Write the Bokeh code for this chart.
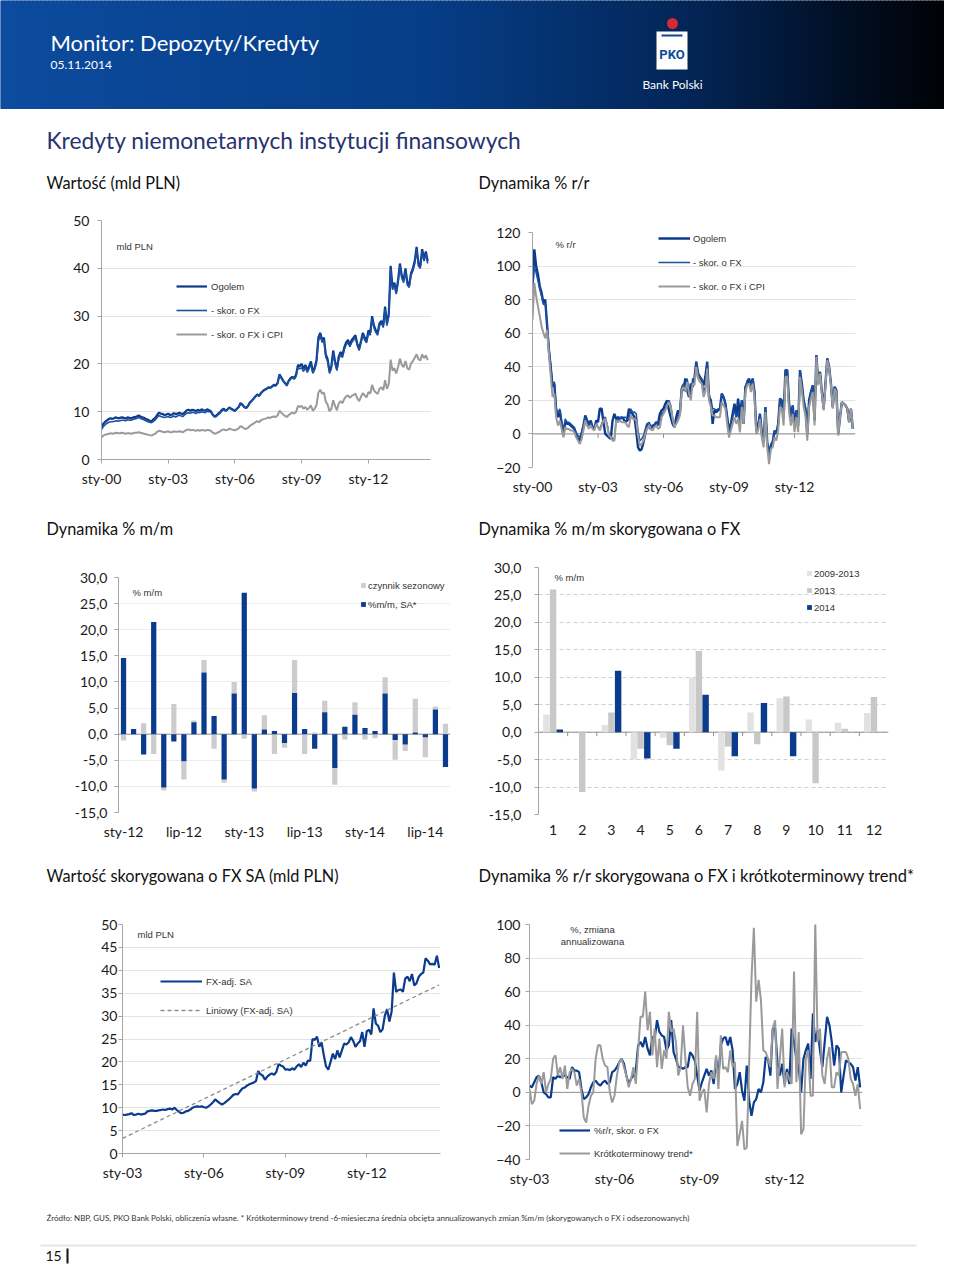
from bokeh.plotting import figure
from bokeh.models import Range1d, FixedTicker, Legend, LegendItem, Span, Label
from bokeh.layouts import column, row
from bokeh.embed import file_html
from bokeh.resources import INLINE
from bokeh.core.properties import value

# ---------------- DATA ----------------
# Chart 1: Wartość (mld PLN), monthly sty-2000 .. wrz-2014
level_tick_labels = ["sty-00", "sty-03", "sty-06", "sty-09", "sty-12"]
level_total = [
    6.9, 7.5, 7.9, 8.2, 8.5, 8.6, 8.5, 8.7, 8.8, 8.6, 8.7, 8.8,
    8.7, 8.6, 8.8, 8.7, 8.6, 8.8, 8.9, 9.0, 9.2, 9.0, 8.8, 8.7,
    8.5, 8.3, 8.1, 8.0, 8.4, 8.7, 9.3, 9.8, 9.6, 9.5, 9.3, 9.4,
    9.6, 9.3, 9.4, 9.7, 9.5, 9.6, 9.8, 9.6, 9.5, 9.9, 10.3, 10.4,
    10.2, 10.4, 10.3, 10.1, 10.4, 10.2, 10.5, 10.3, 10.2, 10.5, 10.3, 10.1,
    9.4, 9.0, 9.2, 9.6, 9.9, 10.4, 10.6, 10.2, 10.5, 10.9, 10.6, 10.4,
    10.2, 10.6, 11.0, 11.8, 11.5, 11.0, 10.8, 11.2, 11.9, 12.3, 12.7, 13.2,
    13.6, 13.3, 13.9, 14.3, 14.6, 14.8, 15.1, 15.0, 15.3, 15.6, 15.5, 16.0,
    17.8, 17.2, 16.5, 16.0, 15.6, 16.5, 17.0, 17.3, 17.0, 17.8, 19.8, 19.5,
    20.0, 19.0, 19.8, 18.6, 19.5, 20.5, 18.4, 19.2, 20.8, 25.5, 26.5, 25.0,
    25.5, 22.0, 21.0, 18.5, 19.5, 22.8, 20.5, 19.0, 21.5, 22.5, 21.8, 23.5,
    24.5, 25.0, 24.0, 25.0, 25.5, 26.0, 24.2, 23.2, 24.8, 26.5, 25.5, 24.8,
    27.0, 26.5, 30.0, 28.0, 27.0, 26.5, 28.5, 29.0, 28.0, 32.0, 28.5, 30.5,
    40.5, 36.0, 37.0, 35.0, 37.5, 41.0, 38.5, 37.5, 40.0, 37.0, 36.5, 39.0,
    40.0, 41.5, 44.5, 41.0, 40.5, 44.0, 42.0, 43.5, 41.5]
level_fx_adj = [
    6.3, 6.9, 7.3, 7.6, 7.8, 7.9, 7.9, 8.0, 8.1, 8.0, 8.1, 8.2,
    8.2, 8.1, 8.3, 8.2, 8.2, 8.4, 8.5, 8.6, 8.8, 8.6, 8.4, 8.3,
    8.1, 7.9, 7.8, 7.7, 8.0, 8.3, 8.8, 9.2, 9.0, 8.9, 8.8, 8.9,
    9.0, 8.8, 8.9, 9.1, 8.9, 9.1, 9.3, 9.1, 9.0, 9.4, 9.7, 9.8,
    9.7, 9.9, 9.8, 9.6, 9.9, 9.8, 10.0, 9.9, 9.8, 10.1, 10.0, 9.9,
    9.3, 8.9, 9.0, 9.4, 9.7, 10.2, 10.4, 10.1, 10.4, 10.8, 10.5, 10.3,
    10.1, 10.5, 10.9, 11.6, 11.4, 10.9, 10.7, 11.1, 11.8, 12.2, 12.6, 13.1,
    13.5, 13.2, 13.8, 14.2, 14.5, 14.7, 15.0, 14.9, 15.2, 15.5, 15.4, 15.9,
    17.6, 17.0, 16.4, 15.9, 15.4, 16.3, 16.8, 17.1, 16.8, 17.4, 19.2, 19.0,
    19.2, 18.4, 19.3, 18.2, 19.0, 20.0, 18.0, 18.8, 20.2, 24.8, 26.0, 24.5,
    25.0, 21.5, 20.5, 18.0, 19.0, 22.2, 20.0, 18.6, 21.0, 22.0, 21.3, 23.0,
    24.0, 24.5, 23.6, 24.5, 25.0, 25.5, 23.8, 22.8, 24.4, 26.0, 25.0, 24.4,
    26.5, 26.0, 29.5, 27.5, 26.6, 26.0, 28.0, 28.6, 27.6, 31.5, 28.0, 30.0,
    40.0, 35.5, 36.5, 34.6, 37.0, 40.5, 38.0, 37.0, 39.5, 36.5, 36.0, 38.5,
    39.5, 41.0, 44.0, 40.5, 40.0, 43.5, 41.5, 43.0, 41.0]
level_fx_cpi_adj = [
    4.6, 5.0, 5.2, 5.3, 5.4, 5.5, 5.4, 5.5, 5.6, 5.5, 5.5, 5.6,
    5.5, 5.4, 5.5, 5.5, 5.4, 5.5, 5.6, 5.6, 5.7, 5.6, 5.5, 5.4,
    5.3, 5.2, 5.1, 5.0, 5.2, 5.4, 5.8, 6.0, 5.9, 5.8, 5.7, 5.8,
    5.9, 5.7, 5.7, 5.9, 5.8, 5.8, 5.9, 5.8, 5.7, 6.0, 6.2, 6.3,
    6.1, 6.2, 6.1, 6.0, 6.2, 6.0, 6.2, 6.1, 6.0, 6.2, 6.1, 6.0,
    5.6, 5.4, 5.5, 5.7, 5.9, 6.2, 6.3, 6.1, 6.2, 6.5, 6.3, 6.2,
    6.1, 6.3, 6.5, 7.0, 6.8, 6.5, 6.4, 6.6, 7.0, 7.3, 7.5, 7.8,
    8.0, 7.8, 8.2, 8.4, 8.5, 8.6, 8.8, 8.7, 8.9, 9.0, 8.9, 9.2,
    10.2, 9.8, 9.4, 9.1, 8.9, 9.3, 9.6, 9.8, 9.6, 10.0, 11.2, 11.0,
    11.2, 10.6, 11.0, 10.4, 10.8, 11.3, 10.2, 10.6, 11.4, 14.0, 14.6, 13.8,
    14.0, 12.1, 11.5, 10.1, 10.6, 12.4, 11.2, 10.3, 11.7, 12.2, 11.8, 12.7,
    13.2, 13.4, 12.9, 13.3, 13.5, 13.8, 12.8, 12.2, 13.1, 13.9, 13.4, 13.0,
    14.1, 13.8, 15.6, 14.5, 14.0, 13.7, 14.8, 15.1, 14.5, 16.6, 14.8, 15.8,
    20.9, 18.6, 19.1, 18.0, 19.3, 21.1, 19.8, 19.3, 20.6, 19.1, 18.8, 20.1,
    20.6, 21.3, 22.0, 21.0, 20.7, 22.0, 21.2, 21.8, 20.8]

# Chart 2: Dynamika % r/r, monthly sty-2000 .. wrz-2014
yoy_total = [
    87, 110, 100, 95, 88, 84, 78, 80, 65, 50, 40, 28,
    30, 14, 10, 14, 6, -1, 7, 6, 6, 5, 4, 3,
    -1, -3, -4, 0, 5, 11, 8, 6, 8, 4, 3, 8,
    7, 15, 15, 7, 0, -1, -2, -3, 8, 12, 9, 10,
    9, 10, 9, 7, 8, 15, 13, 12, 10, 2, -8, -10,
    -9, -5, 0, 6, 4, 3, 5, 5, 7, 6, 12, 14,
    15, 18, 20, 14, 10, 6, 4, 10, 14, 12, 27, 26,
    33, 26, 22, 30, 28, 33, 43, 36, 34, 32, 29, 34,
    43, 22, 20, 6, 14, 13, 14, 15, 24, 22, 18, 10,
    1, 6, 12, 18, 10, 21, 10, 20, 6, 28, 30, 33,
    29, 33, 25, 2, 5, 12, 1, -5, 16, -5, -12, -7,
    -5, 2, 0, 6, 21, 20, 10, 38, 38, 18, 10, 17,
    5, 14, 5, 38, 30, 20, 15, 0, 20, 25, 29, 8,
    47, 30, 37, 25, 15, 30, 45, 40, 30, 16, 28, 26,
    0, 10, 19, 18, 17, 15, 7, 15, 3]
yoy_fx_adj = [
    85, 100, 96, 91, 86, 82, 77, 78, 66, 52, 41, 30,
    31, 16, 12, 15, 8, 2, 9, 7, 7, 6, 5, 4,
    1, -1, -2, 1, 5, 10, 7, 5, 7, 4, 3, 7,
    4, 3, 6, 9, 10, 6, 0, -1, -3, -3, 9, 8,
    10, 9, 10, 10, 9, 8, 15, 13, 13, 12, 2, -4,
    -3, -1, 3, 6, 7, 5, 4, 6, 7, 5, 6, 12,
    13, 15, 18, 20, 17, 10, 5, 8, 10, 13, 28, 30,
    27, 33, 26, 22, 33, 32, 43, 36, 34, 33, 25, 28,
    43, 24, 20, 15, 15, 14, 15, 15, 24, 22, 19, 10,
    1, 6, 10, 14, 10, 13, 5, 20, 10, 28, 32, 33,
    28, 33, 25, 2, 5, 12, 1, -5, 16, -5, -14, -6,
    -4, 2, 0, 6, 21, 20, 10, 38, 38, 18, 10, 17,
    5, 14, 5, 38, 30, 20, 15, 0, 20, 25, 29, 8,
    47, 30, 37, 25, 15, 30, 45, 40, 30, 16, 28, 26,
    0, 10, 19, 18, 17, 15, 7, 15, 3]
yoy_fx_cpi_adj = [
    68, 90, 82, 76, 70, 64, 60, 57, 62, 48, 35, 22,
    24, 10, 5, 8, 3, -2, 4, 3, 3, 2, 2, 1,
    -2, -4, -6, -3, 2, 8, 5, 3, 5, 3, 2, 6,
    4, 2, 5, 8, 9, 5, -1, -2, -4, -4, 8, 7,
    8, 7, 7, 7, 5, 4, 11, 9, 9, 8, -1, -7,
    -6, -4, 0, 3, 5, 3, 2, 4, 5, 3, 4, 10,
    12, 14, 17, 19, 16, 9, 4, 6, 8, 11, 26, 28,
    25, 31, 24, 20, 30, 29, 40, 33, 31, 30, 22, 25,
    39, 20, 16, 11, 11, 10, 10, 10, 19, 17, 15, 6,
    -2, 2, 6, 10, 6, 9, 1, 16, 6, 25, 29, 30,
    25, 30, 22, 0, 2, 9, -2, -8, 13, -8, -18, -9,
    -8, -2, -4, 2, 16, 15, 5, 34, 34, 13, 5, 12,
    1, 10, 1, 34, 26, 16, 11, -4, 16, 21, 25, 5,
    46, 29, 36, 24, 14, 29, 44, 39, 29, 15, 27, 25,
    -1, 10, 19, 18, 17, 15, 7, 15, 3]

# Chart 3: Dynamika % m/m, sty-2012 .. wrz-2014
mm_tick_labels = ["sty-12", "lip-12", "sty-13", "lip-13", "sty-14", "lip-14"]
mm_sa = [14.6, 1.0, -3.9, 21.5, -10.2, -1.4, -5.2, 2.3, 11.8, 3.5, -8.7, 7.8,
         27.1, -10.4, 0.9, 0.6, -1.7, 7.9, 1.0, -2.8, 4.2, -6.5, 1.4, 3.7,
         1.2, 0.6, 7.8, -1.1, -2.0, 0.3, -0.6, 4.7, -6.3]
mm_seasonal = [-1.2, 0.0, 2.1, -3.8, -0.6, 5.8, -3.5, 0.3, 2.4, -2.8, -0.6, 2.2,
               -0.9, -0.6, 2.7, -3.8, -0.9, 6.3, -3.8, 0.3, 2.2, -3.2, -1.0, 2.4,
               -1.0, -0.8, 3.1, -3.8, -1.2, 6.5, -3.8, 0.6, 2.0]
pct_ticks = [-15, -10, -5, 0, 5, 10, 15, 20, 25, 30]
pct_tick_labels = ["-15,0", "-10,0", "-5,0", "0,0", "5,0", "10,0", "15,0", "20,0", "25,0", "30,0"]

# Chart 4: Dynamika % m/m skorygowana o FX, by calendar month
cal_months = [1, 2, 3, 4, 5, 6, 7, 8, 9, 10, 11, 12]
mm_avg_2009_2013 = [3.2, 0.0, 1.3, -5.0, -1.0, 9.9, -7.0, 3.6, 6.2, 2.3, 1.7, 3.5]
mm_2013 = [26.0, -10.9, 3.6, -3.0, -2.4, 14.8, -2.6, -2.2, 6.5, -9.3, 0.6, 6.4]
mm_2014 = [0.5, 0.0, 11.2, -4.8, -3.0, 6.8, -4.4, 5.3, -4.4, float("nan"), float("nan"), float("nan")]

# Chart 5: Wartość skorygowana o FX SA (mld PLN), sty-2003 .. wrz-2014
sa_tick_labels = ["sty-03", "sty-06", "sty-09", "sty-12"]
sa_level = [
    8.5, 8.4, 8.5, 8.6, 8.8, 8.4, 8.5, 8.7, 8.5, 8.6, 8.7, 9.2,
    9.3, 9.4, 9.3, 9.3, 9.4, 9.5, 9.6, 9.5, 9.7, 9.8, 9.6, 10.0,
    9.5, 9.1, 8.8, 8.9, 9.2, 9.3, 9.6, 10.0, 10.2, 10.3, 10.2, 10.3,
    10.1, 10.0, 10.3, 10.7, 11.2, 11.8, 11.4, 11.0, 10.7, 11.0, 11.4, 11.8,
    12.3, 12.8, 13.0, 12.9, 13.6, 14.2, 14.4, 14.8, 15.1, 15.3, 15.5, 15.8,
    18.0, 17.3, 17.0, 16.1, 16.8, 17.2, 17.5, 17.2, 17.8, 19.5, 19.2, 19.0,
    18.3, 18.4, 18.2, 18.6, 18.3, 19.0, 19.5, 18.9, 19.8, 19.2, 20.3, 20.2,
    25.0, 24.8, 25.5, 23.3, 24.3, 21.5, 19.0, 18.3, 20.0, 21.8, 20.6, 22.5,
    21.0, 22.5, 24.0, 23.8, 24.3, 25.4, 24.6, 23.3, 24.0, 24.5, 26.5, 23.3,
    26.7, 27.0, 26.0, 31.7, 28.4, 27.9, 26.5, 27.1, 30.1, 31.5, 28.8, 31.0,
    39.5, 35.3, 35.7, 35.8, 35.3, 38.2, 38.6, 37.6, 39.2, 36.7, 37.2, 38.6,
    39.2, 39.5, 42.6, 42.1, 41.3, 41.4, 41.2, 43.2, 40.5]
sa_linear_start = 3.3
sa_linear_end = 36.8

# Chart 6: Dynamika % r/r skorygowana o FX i krótkoterminowy trend, sty-2003 .. wrz-2014
yoy_fx_2003 = yoy_fx_adj[36:]
short_trend = [
    2, -7, -5, 5, 10, 5, 12, 0, 5, 8, 20, 22,
    10, 15, 8, 16, 2, 12, 14, 12, 4, 8, 0, -15,
    -18, -8, -2, 0, 20, 28, 28, 20, 16, 15, 0, -6,
    -2, 10, 18, 20, 15, 10, 3, 8, 15, 5, 25, 45,
    45, 60, 37, 48, 22, 38, 15, 32, 14, 25, 20, 48,
    36, 38, 30, 10, 15, 40, 20, 3, -2, 5, 8, 48,
    -5, 0, 2, -12, 5, 12, 8, 22, 2, 34, 14, 15,
    12, 25, 15, 18, -32, -25, -17, -34, -33, 17, 68, 98,
    54, 67, 55, 25, 24, 20, 15, 38, 43, 2, 20, 38,
    3, 12, 8, 5, 72, 6, 36, -25, -22, 20, 25, -2,
    -2, 101, 30, 38, 10, 5, 20, 27, 3, 3, 12, 10,
    24, 24, 24, 20, 8, 5, -2, 5, -10]

# ---------------- STYLE ----------------
NAVY = "#0b3b8c"
NAVY2 = "#1c4f9f"
GREY_LINE = "#9a9a9a"
AXIS = "#a6a6a6"
GRID = "#e4e4e4"
TICK_FONT = "Lato"
HEAD_FONT = "Lato"
SMALL_FONT = "Liberation Sans"
W_LEFT, W_RIGHT = 470, 474


def blank_fig(w, h):
    f = figure(width=w, height=h, x_range=Range1d(0, w), y_range=Range1d(0, h),
               toolbar_location=None, output_backend="svg",
               x_axis_type=None, y_axis_type=None, min_border=0)
    f.outline_line_color = None
    return f


def text_fig(top, h, items):
    f = blank_fig(944, h)
    for (px, py, s, size, color, align) in items:
        f.text(x=[px], y=[h - (py - top)], text=[s], text_font=value(HEAD_FONT),
               text_font_size=value(size), text_color=color, text_align=align,
               text_baseline="middle")
    return f


def make_chart(w, h, L, R, T, B, xr, yr):
    p = figure(width=w, height=h, x_range=Range1d(*xr), y_range=Range1d(*yr),
               toolbar_location=None, output_backend="svg",
               min_border_left=L, min_border_right=R, min_border_top=T, min_border_bottom=B)
    p.outline_line_color = None
    p.xgrid.visible = False
    return p


def style_axes(p, xticks, xlabels, yticks, ylabels, ystand, x_line, x_tick,
               grid_color=GRID, grid_dash="solid"):
    xa = p.xaxis[0]
    xa.ticker = FixedTicker(ticks=xticks)
    if xlabels is not None:
        xa.major_label_overrides = {t: l for t, l in zip(xticks, xlabels)}
    xa.axis_line_color = AXIS if x_line else None
    xa.major_tick_out = x_tick
    xa.major_tick_in = 0
    xa.major_tick_line_color = AXIS if x_tick else None
    xa.minor_tick_line_color = None
    xa.major_label_standoff = 10 - x_tick
    xa.major_label_text_font = TICK_FONT
    xa.major_label_text_font_size = "14px"
    xa.major_label_text_color = "#1a1a1a"
    ya = p.yaxis[0]
    ya.ticker = FixedTicker(ticks=yticks)
    if ylabels is not None:
        ya.major_label_overrides = {t: l for t, l in zip(yticks, ylabels)}
    ya.axis_line_color = AXIS
    ya.major_tick_out = 4
    ya.major_tick_in = 0
    ya.major_tick_line_color = AXIS
    ya.minor_tick_line_color = None
    ya.major_label_standoff = ystand
    ya.major_label_text_font = TICK_FONT
    ya.major_label_text_font_size = "14px"
    ya.major_label_text_color = "#1a1a1a"
    p.ygrid.ticker = FixedTicker(ticks=yticks)
    p.ygrid.grid_line_color = grid_color
    p.ygrid.grid_line_dash = grid_dash


def add_legend(p, items, loc, gw, gh, spacing, standoff, lh=12):
    leg = Legend(items=[LegendItem(label=l, renderers=[r]) for l, r in items],
                 location=loc, orientation="vertical", padding=0, margin=0,
                 spacing=spacing, glyph_width=gw, glyph_height=gh, label_height=lh,
                 label_standoff=standoff, label_text_font=SMALL_FONT,
                 label_text_font_size="9.5px", label_text_color="#333333",
                 border_line_color=None, background_fill_alpha=0)
    p.add_layout(leg)


def add_note(p, geom, px, py, s, align="left"):
    L, R, T, B, xr, yr = geom
    x = xr[0] + (px - L) / (R - L) * (xr[1] - xr[0])
    y = yr[0] + (B - py) / (B - T) * (yr[1] - yr[0])
    p.add_layout(Label(x=x, y=y, text=s, text_font=SMALL_FONT, text_font_size="9.5px",
                       text_color="#333333", text_align=align, text_baseline="middle"))


def zero_line(p):
    s = Span(location=0, dimension="width", line_color="#8f8f8f", line_width=1)
    s.level = "underlay"
    p.add_layout(s)


def zero_ticks(p, geom, xs, px_len=4):
    L, R, T, B, xr, yr = geom
    d = px_len * (yr[1] - yr[0]) / (B - T)
    p.segment(x0=xs, y0=[0] * len(xs), x1=xs, y1=[-d] * len(xs), line_color="#8f8f8f",
              line_width=1)


# ---------------- HEADER ----------------
hdr = blank_fig(944, 110)
grad_stops = [(0.0, (12, 75, 158)), (0.45, (6, 61, 134)), (0.72, (3, 37, 86)),
              (0.9, (1, 12, 30)), (1.0, (0, 0, 0))]


def grad(t):
    for (t0, c0), (t1, c1) in zip(grad_stops[:-1], grad_stops[1:]):
        if t <= t1:
            f = (t - t0) / (t1 - t0)
            return "#%02x%02x%02x" % tuple(int(round(a + (b - a) * f)) for a, b in zip(c0, c1))
    return "#000000"


n_strips = 236
lefts = [i * 4 for i in range(n_strips)]
rights = [(i + 1) * 4 for i in range(n_strips)]
cols = [grad((i * 4 + 2) / 960.0) for i in range(n_strips)]
hdr.quad(left=lefts, right=rights, bottom=2, top=110, fill_color=cols, line_color=cols)
hdr.text(x=[50], y=[110 - 42], text=["Monitor: Depozyty/Kredyty"], text_font=value(HEAD_FONT),
         text_font_size=value("22px"), text_color="white", text_baseline="middle")
hdr.text(x=[50], y=[110 - 64], text=["05.11.2014"], text_font=value(HEAD_FONT),
         text_font_size=value("12px"), text_color="white", text_baseline="middle")
# logo: piggy-bank body, slot, letters, red coin
hdr.quad(left=[656], right=[687], top=[110 - 31], bottom=[110 - 69],
         fill_color="white", line_color=None)
hdr.quad(left=[661], right=[682], top=[110 - 34], bottom=[110 - 36],
         fill_color="#0b4a9e", line_color=None)
hdr.text(x=[671.5], y=[110 - 54], text=["PKO"], text_font=value("Roboto"),
         text_font_style="bold", text_font_size=value("13px"), text_color="#0b4a9e",
         text_align="center", text_baseline="middle")
hdr.scatter(x=[672], y=[110 - 23], size=11, marker="circle", fill_color="#d62a34",
            line_color=None)
hdr.text(x=[672], y=[110 - 84], text=["Bank Polski"], text_font=value(HEAD_FONT),
         text_font_size=value("12px"), text_color="white", text_align="center",
         text_baseline="middle")

# ---------------- TITLES ----------------
t1 = text_fig(110, 90, [
    (46, 139, "Kredyty niemonetarnych instytucji finansowych", "22.8px", "#27336f", "left"),
    (46, 182, "Wartość (mld PLN)", "16.3px", "#111111", "left"),
    (478, 182, "Dynamika % r/r", "16.3px", "#111111", "left")])
t2 = text_fig(505, 45, [
    (46, 528, "Dynamika % m/m", "16.3px", "#111111", "left"),
    (478, 528, "Dynamika % m/m skorygowana o FX", "16.3px", "#111111", "left")])
t3 = text_fig(850, 50, [
    (46, 875, "Wartość skorygowana o FX SA (mld PLN)", "16.3px", "#111111", "left"),
    (478, 875, "Dynamika % r/r skorygowana o FX i krótkoterminowy trend*", "16.5px", "#111111", "left")])

# ---------------- CHART 1 ----------------
g1 = (101, 430, 220, 459, (0, 177.5), (0, 50))
c1 = make_chart(W_LEFT, 305, 101, W_LEFT - 430, 20, 46, g1[4], g1[5])
m1 = list(range(len(level_total)))
r1c = c1.line(m1, level_fx_cpi_adj, line_color=GREY_LINE, line_width=2)
r1a = c1.line(m1, level_total, line_color=NAVY, line_width=2.2)
r1b = c1.line(m1, level_fx_adj, line_color=NAVY2, line_width=1.6)
style_axes(c1, [0, 36, 72, 108, 144], level_tick_labels, [0, 10, 20, 30, 40, 50], None, 8, True, 4)
add_legend(c1, [("Ogolem", r1a), ("- skor. o FX", r1b), ("- skor. o FX i CPI", r1c)],
           (75, 119), 31, 12, 12, 4)
add_note(c1, g1, 116, 246, "mld PLN")

# ---------------- CHART 2 ----------------
g2 = (532, 855, 232, 467, (0, 177.5), (-20, 120))
c2 = make_chart(W_RIGHT, 305, 532 - 470, 944 - 855, 32, 38, g2[4], g2[5])
m2 = list(range(len(yoy_total)))
zero_line(c2)
zero_ticks(c2, g2, [36, 72, 108, 144])
r2a = c2.line(m2, yoy_total, line_color=NAVY, line_width=2.4)
r2b = c2.line(m2, yoy_fx_adj, line_color=NAVY2, line_width=1.5)
r2c = c2.line(m2, yoy_fx_cpi_adj, line_color=GREY_LINE, line_width=2)
style_axes(c2, [0, 36, 72, 108, 144], level_tick_labels, [-20, 0, 20, 40, 60, 80, 100, 120],
           None, 8, False, 0)
add_legend(c2, [("Ogolem", r2a), ("- skor. o FX", r2b), ("- skor. o FX i CPI", r2c)],
           (126, 175), 32, 12, 12, 3)
add_note(c2, g2, 555, 244, "% r/r")

# ---------------- CHART 3 ----------------
g3 = (118, 450, 577, 812, (-0.5, 32.5), (-15, 30))
c3 = make_chart(W_LEFT, 300, 118, W_LEFT - 450, 27, 38, g3[4], g3[5])
i3 = list(range(len(mm_sa)))
s_bot, s_top = [], []
for b, g in zip(mm_sa, mm_seasonal):
    if (b >= 0) == (g >= 0):
        s_bot.append(b)
        s_top.append(b + g)
    else:
        s_bot.append(0)
        s_top.append(g)
zero_line(c3)
r3g = c3.vbar(x=i3, bottom=s_bot, top=s_top, width=0.52, fill_color="#cccccc", line_color=None)
r3b = c3.vbar(x=i3, bottom=0, top=mm_sa, width=0.52, fill_color=NAVY, line_color=None)
style_axes(c3, [0, 6, 12, 18, 24, 30], mm_tick_labels, pct_ticks, pct_tick_labels, 7, False, 0,
           grid_color="#ececec")
add_legend(c3, [("czynnik sezonowy", r3g), ("%m/m, SA*", r3b)], (242, 202), 6, 6, 7, 2)
add_note(c3, g3, 132, 592, "% m/m")

# ---------------- CHART 4 ----------------
g4 = (538, 888, 567, 814, (0.5, 12.5), (-15, 30))
c4 = make_chart(W_RIGHT, 300, 538 - 470, 944 - 888, 17, 36, g4[4], g4[5])
zero_line(c4)
zero_ticks(c4, g4, [k + 0.5 for k in cal_months[:-1]])
r4a = c4.vbar(x=[k - 0.23 for k in cal_months], top=mm_avg_2009_2013, width=0.22,
              fill_color="#e2e2e2", line_color=None)
r4b = c4.vbar(x=cal_months, top=mm_2013, width=0.22, fill_color="#c8c8c8", line_color=None)
r4c = c4.vbar(x=[k + 0.23 for k in cal_months], top=mm_2014, width=0.22, fill_color=NAVY,
              line_color=None)
style_axes(c4, cal_months, None, pct_ticks, pct_tick_labels, 13, False, 0,
           grid_color="#d0d0d0", grid_dash="4 3")
add_legend(c4, [("2009-2013", r4a), ("2013", r4b), ("2014", r4c)], (268, 201), 6, 6, 5, 2)
add_note(c4, g4, 554, 577, "% m/m")

# ---------------- CHART 5 ----------------
g5 = (122, 440, 924, 1153, (0, 140.6), (0, 50))
c5 = make_chart(W_LEFT, 295, 122, W_LEFT - 440, 24, 42, g5[4], g5[5])
m5 = list(range(len(sa_level)))
r5a = c5.line(m5, sa_level, line_color=NAVY, line_width=2.2)
r5b = c5.line([m5[0], m5[-1]], [sa_linear_start, sa_linear_end], line_color="#8c8c8c",
              line_width=1.3, line_dash="4 3")
style_axes(c5, [0, 36, 72, 108], sa_tick_labels, [0, 5, 10, 15, 20, 25, 30, 35, 40, 45, 50],
           None, 1, True, 4)
add_legend(c5, [("FX-adj. SA", r5a), ("Liniowy (FX-adj. SA)", r5b)], (38, 137), 42, 12, 17, 4)
add_note(c5, g5, 137, 934, "mld PLN")

# ---------------- CHART 6 ----------------
g6 = (529, 862, 924, 1159, (0, 141), (-40, 100))
c6 = make_chart(W_RIGHT, 295, 529 - 470, 944 - 862, 24, 36, g6[4], g6[5])
m6 = list(range(len(yoy_fx_2003)))
zero_line(c6)
r6a = c6.line(m6, yoy_fx_2003, line_color=NAVY, line_width=2.2)
r6b = c6.line(m6, short_trend, line_color=GREY_LINE, line_width=2)
style_axes(c6, [0, 36, 72, 108], sa_tick_labels, [-40, -20, 0, 20, 40, 60, 80, 100],
           None, 5, False, 0)
add_legend(c6, [("%r/r, skor. o FX", r6a), ("Krótkoterminowy trend*", r6b)], (30, 0), 31, 12, 11, 4)
add_note(c6, g6, 592, 929, "%, zmiana", "center")
add_note(c6, g6, 592, 941, "annualizowana", "center")

# ---------------- FOOTER ----------------
footnote = ("Źródło: NBP, GUS, PKO Bank Polski, obliczenia własne. * Krótkoterminowy trend "
            "-6-miesieczna średnia obcięta annualizowanych zmian %m/m (skorygowanych o FX i "
            "odsezonowanych)")
ft = text_fig(1195, 71, [(46, 1217, footnote, "8px", "#333333", "left"),
                         (45, 1255, "15", "14px", "#111111", "left")])
ft.quad(left=[40], right=[916], top=[71 - (1244 - 1195)], bottom=[71 - (1246 - 1195)],
        fill_color="#e6e6e6", line_color=None)
ft.quad(left=[66], right=[68], top=[71 - (1248 - 1195)], bottom=[71 - (1263 - 1195)],
        fill_color="#111111", line_color=None)

layout = column(hdr, t1,
                row(column(c1), column(c2)), t2,
                row(column(c3), column(c4)), t3,
                row(column(c5), column(c6)), ft)
open("out.html", "w").write(file_html(layout, INLINE))
